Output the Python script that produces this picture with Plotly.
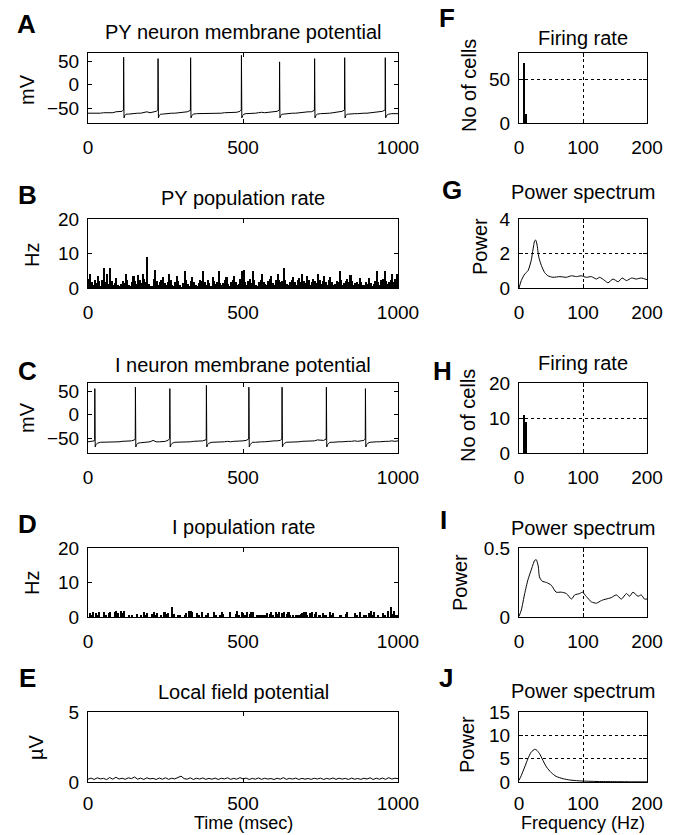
import plotly.graph_objects as go

W, H = 678, 835

# ---------------- data ----------------
time_ms = list(range(0, 1001, 10))

# A: PY neuron membrane potential (mV)
py_baseline = [-61, -61, -62, -61, -61, -60, -60, -59, -60, -58, -58, -57,
               -63, -63, -62, -62, -61, -61, -60, -58, -60, -58, -57,
               -64, -63, -62, -62, -61, -61, -60, -60, -59, -58, -57,
               -63, -62, -62, -62, -62, -61, -62, -61, -61, -61, -60, -60, -60, -59, -59, -57,
               -63, -62, -62, -61, -61, -60, -59, -60, -59, -58, -58, -57,
               -64, -63, -62, -62, -61, -61, -60, -60, -59, -58, -58, -57,
               -63, -62, -62, -61, -61, -60, -59, -58, -57,
               -64, -63, -62, -62, -62, -61, -61, -61, -60, -60, -59, -57, -57,
               -64, -63, -62, -62, -62]
py_spike_times = [115, 226, 331, 495, 618, 731, 828, 959]
py_spike_peaks = [59, 56, 58, 63, 49, 56, 58, 58]
py_trough = -71

# C: I neuron membrane potential (mV)
in_baseline = [-58, -57, -56,
               -60, -59, -59, -58, -58, -58, -58, -58, -57, -57, -56, -56, -54,
               -60, -60, -59, -59, -58, -55, -58, -58, -57, -57, -54,
               -60, -59, -59, -58, -58, -58, -58, -57, -57, -57, -56, -54,
               -60, -59, -59, -58, -58, -58, -57, -58, -57, -57, -56, -56, -55,
               -60, -59, -59, -58, -58, -58, -57, -57, -56, -56, -55,
               -60, -59, -59, -58, -58, -58, -57, -57, -57, -56, -56, -54, -55, -55,
               -60, -59, -59, -58, -58, -58, -57, -57, -57, -56, -57, -56, -55,
               -60, -59, -58, -58, -58, -57, -57, -57, -56, -57, -56]
in_spike_times = [22, 153, 264, 382, 519, 626, 769, 895]
in_spike_peaks = [56, 59, 56, 63, 59, 59, 59, 56]
in_trough = -69

# B: PY population rate (Hz), 5 ms bins
bin_ms = list(range(0, 1000, 5))
py_rate = [2.5, 4.0, 1.8, 1.0, 2.2, 1.5, 3.5, 2.0, 0.6, 2.4,
           5.9, 1.6, 4.2, 1.2, 5.9, 2.0, 0.8, 1.4, 2.8, 1.0,
           0.4, 1.2, 2.0, 1.5, 4.0, 2.2, 1.0, 0.6, 1.8, 3.5,
           2.0, 1.2, 3.8, 2.4, 1.5, 4.0, 2.6, 1.8, 9.1, 1.2,
           0.3, 0.6, 2.5, 5.2, 2.0, 1.0, 1.6, 2.2, 3.3, 1.4,
           0.8, 1.8, 4.0, 2.4, 1.0, 0.5, 1.6, 3.5, 2.0, 1.0,
           0.2, 1.5, 4.9, 2.2, 1.2, 0.6, 2.0, 3.3, 1.8, 0.8,
           0.4, 1.4, 2.4, 2.0, 4.9, 1.6, 1.0, 2.2, 1.4, 0.6,
           3.3, 2.0, 1.2, 1.8, 4.9, 1.5, 0.8, 1.4, 2.2, 3.3,
           1.2, 0.6, 1.8, 2.4, 3.5, 1.6, 0.8, 1.2, 2.6, 4.9,
           5.2, 1.8, 1.0, 2.0, 2.6, 1.4, 4.9, 2.2, 1.0, 0.6,
           1.6, 2.4, 4.0, 1.8, 1.2, 0.8, 2.0, 2.6, 3.5, 1.4,
           1.0, 2.2, 4.0, 2.4, 1.6, 2.0, 5.9, 2.2, 1.2, 0.8,
           1.6, 2.2, 3.3, 1.8, 1.0, 2.4, 2.8, 1.6, 4.0, 2.0,
           1.4, 3.5, 2.2, 1.0, 1.6, 2.6, 2.0, 1.4, 4.0, 2.2,
           1.2, 2.0, 3.5, 1.8, 1.0, 2.4, 3.3, 1.6, 0.8, 1.2,
           2.0, 1.6, 4.9, 2.2, 1.0, 1.4, 2.0, 2.6, 1.8, 3.8,
           2.0, 1.0, 1.4, 1.8, 1.2, 3.0, 1.6, 0.8, 1.0, 1.6,
           1.2, 2.8, 1.4, 0.6, 1.2, 2.0, 4.9, 1.8, 1.0, 2.2,
           2.6, 4.9, 2.0, 1.2, 1.6, 2.4, 4.0, 1.8, 2.6, 4.0]

# D: I population rate (Hz), 5 ms bins
in_rate = [0, 1.2, 0.6, 1.5, 0, 1.2, 0.5, 1.4, 0, 0,
           1.5, 0.6, 0, 1.2, 1.5, 0, 0, 1.5, 1.6, 1.2,
           0, 1.6, 1.2, 1.6, 0, 0, 0.6, 0, 0.5, 0,
           0, 1.0, 0, 0, 0.5, 0, 1.4, 0.6, 1.2, 0,
           0, 0.8, 1.5, 0.6, 1.2, 0, 0, 0.6, 0, 1.4,
           0.8, 1.2, 0, 0, 2.8, 1.0, 0, 0, 0.6, 0.5,
           0, 0, 0.6, 1.2, 0, 1.6, 1.6, 1.4, 0, 0,
           1.2, 0.5, 0, 1.4, 0, 0, 0.6, 1.2, 0, 0,
           0, 1.4, 0.6, 0, 0, 0.6, 1.5, 0.8, 0, 0,
           0, 1.4, 0, 0, 0, 0.8, 1.6, 0.6, 0, 1.5,
           0, 0.6, 1.4, 0, 0.8, 1.5, 1.5, 0, 0, 0.5,
           0.6, 0.5, 0.6, 0.5, 0.6, 1.2, 0, 0.8, 1.4, 0.6,
           0, 1.4, 0.8, 1.5, 0, 1.2, 1.5, 0, 0.8, 1.4,
           0.5, 0, 0.6, 0, 0.4, 0.6, 0.6, 0.8, 1.2, 1.5,
           1.5, 0.6, 0, 1.2, 1.5, 0, 0.8, 1.5, 0, 0.5,
           0, 1.2, 0.6, 0.5, 0, 0, 1.4, 0.5, 1.2, 0,
           0, 0, 0.6, 0.4, 0, 0, 0.8, 1.5, 0, 0,
           0, 0, 1.2, 0.5, 0, 1.4, 0, 0, 0.6, 0.5,
           0, 1.2, 1.6, 0.6, 1.4, 0, 0, 0.6, 0, 0,
           1.2, 0.6, 0, 1.6, 0, 2.8, 1.0, 1.6, 0.6, 0.5]

# E: Local field potential (uV)
lfp = [0.20, 0.28, 0.18, 0.30, 0.22, 0.26, 0.17, 0.32, 0.20, 0.34,
       0.21, 0.27, 0.19, 0.30, 0.24, 0.36, 0.20, 0.28, 0.18, 0.30,
       0.22, 0.26, 0.18, 0.28, 0.20, 0.30, 0.19, 0.27, 0.22, 0.33,
       0.42, 0.24, 0.20, 0.30, 0.18, 0.27, 0.21, 0.29, 0.19, 0.26,
       0.20, 0.28, 0.18, 0.27, 0.22, 0.30, 0.19, 0.26, 0.20, 0.31,
       0.22, 0.28, 0.18, 0.26, 0.20, 0.29, 0.19, 0.27, 0.21, 0.25,
       0.18, 0.27, 0.20, 0.31, 0.19, 0.26, 0.21, 0.28, 0.18, 0.26,
       0.20, 0.25, 0.19, 0.27, 0.21, 0.28, 0.18, 0.26, 0.20, 0.29,
       0.19, 0.27, 0.21, 0.26, 0.18, 0.28, 0.20, 0.25, 0.19, 0.27,
       0.21, 0.30, 0.18, 0.27, 0.20, 0.28, 0.19, 0.31, 0.21, 0.27,
       0.24]

# F / H: firing rate histograms
fr_bins_hz = [8, 11]
py_cells = [70, 10]
in_cells = [11, 9]

# G: PY power spectrum
g_freq = [0, 3.6, 8.9, 14, 19, 22, 24.5, 26, 28, 31, 35, 40, 45, 53, 64, 74, 82, 90, 97,
          105, 113, 121, 126, 134, 139, 147, 155, 161, 168, 176, 183, 191, 200]
g_power = [0, 0.43, 0.81, 1.0, 1.58, 2.26, 2.74, 2.78, 2.55, 1.78, 1.3, 0.9, 0.71, 0.62, 0.66,
           0.62, 0.71, 0.66, 0.71, 0.62, 0.66, 0.52, 0.62, 0.43, 0.30, 0.52, 0.36, 0.58, 0.43,
           0.58, 0.52, 0.58, 0.48]

# I: I power spectrum
i_freq = [0, 3.6, 8.9, 14, 19, 24.5, 27, 30, 32, 36, 43, 50.5, 58, 66, 74, 82, 87, 95, 99,
          105, 113, 121, 129, 136, 144, 152, 160, 168, 173, 178, 186, 191, 196, 200]
i_power = [0.005, 0.05, 0.17, 0.27, 0.34, 0.41, 0.415, 0.37, 0.29, 0.26, 0.25, 0.23, 0.18,
           0.18, 0.17, 0.13, 0.16, 0.17, 0.18, 0.15, 0.11, 0.10, 0.12, 0.13, 0.14, 0.16,
           0.13, 0.17, 0.15, 0.18, 0.15, 0.16, 0.13, 0.13]

# J: LFP power spectrum
j_freq = [0, 3.6, 8.9, 14, 19, 24.5, 27, 32, 37.5, 43, 50.5, 58, 69, 79, 90, 100, 126, 152, 178, 200]
j_power = [0.36, 1.4, 3.2, 5.0, 6.4, 7.0, 6.9, 6.1, 4.6, 3.2, 2.0, 1.2, 0.7, 0.43, 0.29,
           0.2, 0.1, 0.07, 0.04, 0.03]


def membrane(base_t, base_v, spikes, peaks, trough):
    pts = [(t, v) for t, v in zip(base_t, base_v)
           if not any(s - 2 < t < s + 9 for s in spikes)]
    for s, p in zip(spikes, peaks):
        pre = base_v[min(range(len(base_t)), key=lambda k: abs(base_t[k] - (s - 6)))] + 3
        pts += [(s - 0.6, pre), (s, p), (s + 1.2, trough), (s + 4, trough + 5), (s + 8, trough + 8)]
    pts.sort()
    return [p[0] for p in pts], [p[1] for p in pts]


py_t, py_v = membrane(time_ms, py_baseline, py_spike_times, py_spike_peaks, py_trough)
in_t, in_v = membrane(time_ms, in_baseline, in_spike_times, in_spike_peaks, in_trough)

# ---------------- figure ----------------
fig = go.Figure()
FONT = "Liberation Sans, Arial, Helvetica, sans-serif"
line = dict(color="black", width=1)
spline = dict(color="black", width=1, shape="spline", smoothing=0.6)
barmk = dict(color="black", line=dict(width=0))

# axis index: 1 A, 2 B, 3 C, 4 D, 5 E, 6 F, 7 G, 8 H, 9 I, 10 J
fig.add_trace(go.Scatter(x=py_t, y=py_v, mode="lines", line=line, xaxis="x", yaxis="y"))
fig.add_trace(go.Bar(x=bin_ms, y=py_rate, width=5, offset=0, marker=barmk, xaxis="x2", yaxis="y2"))
fig.add_trace(go.Scatter(x=in_t, y=in_v, mode="lines", line=line, xaxis="x3", yaxis="y3"))
fig.add_trace(go.Bar(x=bin_ms, y=in_rate, width=5, offset=0, marker=barmk, xaxis="x4", yaxis="y4"))
fig.add_trace(go.Scatter(x=time_ms, y=lfp, mode="lines", line=line, xaxis="x5", yaxis="y5"))
fig.add_trace(go.Bar(x=fr_bins_hz, y=py_cells, width=2.6, marker=barmk, xaxis="x6", yaxis="y6"))
fig.add_trace(go.Scatter(x=g_freq, y=g_power, mode="lines", line=spline, xaxis="x7", yaxis="y7"))
fig.add_trace(go.Bar(x=fr_bins_hz, y=in_cells, width=2.6, marker=barmk, xaxis="x8", yaxis="y8"))
fig.add_trace(go.Scatter(x=i_freq, y=i_power, mode="lines", line=spline, xaxis="x9", yaxis="y9"))
fig.add_trace(go.Scatter(x=j_freq, y=j_power, mode="lines", line=spline, xaxis="x10", yaxis="y10"))


def xd(a, b):
    return [a / W, b / W]


def yd(top, bottom):
    return [1 - bottom / H, 1 - top / H]


base = dict(showline=True, linecolor="black", linewidth=1, mirror="allticks", ticks="inside",
            ticklen=4, tickcolor="black", tickwidth=1, zeroline=False, showgrid=False,
            automargin=False, tickfont=dict(family=FONT, size=19, color="black"), fixedrange=True)

LEFT = (88, 398)
RIGHT = (519, 647)
rows = [(53, 123), (219, 288), (383, 453), (548, 617), (712, 782)]

specs = [
    # (idx, xpx, ypx, xrange, yrange, xticks, yticks, grid)
    (1, LEFT, rows[0], [0, 1000], [-82, 68], [0, 500, 1000], [-50, 0, 50], False),
    (2, LEFT, rows[1], [0, 1000], [0, 20], [0, 500, 1000], [0, 10, 20], False),
    (3, LEFT, rows[2], [0, 1000], [-82, 68], [0, 500, 1000], [-50, 0, 50], False),
    (4, LEFT, rows[3], [0, 1000], [0, 20], [0, 500, 1000], [0, 10, 20], False),
    (5, LEFT, rows[4], [0, 1000], [0, 5], [0, 500, 1000], [0, 5], False),
    (6, RIGHT, rows[0], [0, 200], [0, 81], [0, 100, 200], [0, 50], True),
    (7, RIGHT, rows[1], [0, 200], [0, 4], [0, 100, 200], [0, 2, 4], True),
    (8, RIGHT, rows[2], [0, 200], [0, 20], [0, 100, 200], [0, 10, 20], True),
    (9, RIGHT, rows[3], [0, 200], [0, 0.5], [0, 100, 200], [0, 0.5], True),
    (10, RIGHT, rows[4], [0, 200], [0, 15], [0, 100, 200], [0, 5, 10, 15], True),
]

layout_axes = {}
for idx, xp, yp, xr, yr, xt, yt, grid in specs:
    s = "" if idx == 1 else str(idx)
    standoff = 4 if idx in (5, 10) else 7
    xa = dict(base, domain=xd(*xp), range=xr, tickvals=xt, anchor="y" + s, ticklabelstandoff=standoff)
    ya = dict(base, domain=yd(*yp), range=yr, tickvals=yt, anchor="x" + s, ticklabelstandoff=4)
    if grid:
        for a in (xa, ya):
            a.update(showgrid=True, gridcolor="black", gridwidth=1, griddash="dot")
    layout_axes["xaxis" + s] = xa
    layout_axes["yaxis" + s] = ya

ann = []


def text(x, y, t, size=20, bold=False, angle=0):
    ann.append(dict(x=x / W, y=1 - y / H, xref="paper", yref="paper", text=("<b>%s</b>" % t) if bold else t,
                    showarrow=False, xanchor="center", yanchor="middle", textangle=angle,
                    font=dict(family=FONT, size=size, color="black")))


# panel letters
for lab, x, y in [("A", 26, 24), ("B", 27, 195), ("C", 27, 371), ("D", 27, 524), ("E", 27, 678),
                  ("F", 447, 18), ("G", 452, 190), ("H", 442, 371), ("I", 443, 520), ("J", 446, 678)]:
    text(x, y, lab, size=26, bold=True)

# titles
for t, x, y in [("PY neuron membrane potential", 243, 32), ("PY population rate", 243, 198),
                ("I neuron membrane potential", 243, 365), ("I population rate", 243, 527),
                ("Local field potential", 243, 692),
                ("Firing rate", 583, 38), ("Power spectrum", 583, 192), ("Firing rate", 583, 363),
                ("Power spectrum", 583, 528), ("Power spectrum", 583, 691)]:
    text(x, y, t)

# axis titles
text(243, 823, "Time (msec)", size=18)
text(583, 823, "Frequency (Hz)", size=18)
for t, x, y in [("mV", 27, 90), ("Hz", 32, 255), ("mV", 27, 418), ("Hz", 32, 583), ("µV", 36, 747),
                ("No of cells", 469, 86), ("Power", 480, 247), ("No of cells", 468, 416),
                ("Power", 460, 583), ("Power", 467, 745)]:
    text(x, y, t, angle=-90)

fig.update_layout(width=W, height=H, margin=dict(l=0, r=0, t=0, b=0), paper_bgcolor="white",
                  plot_bgcolor="white", showlegend=False, bargap=0, annotations=ann, **layout_axes)

fig.write_html("out.html", config={"displayModeBar": False},
               post_script="document.body.style.margin='0px';document.body.style.overflow='hidden';")
